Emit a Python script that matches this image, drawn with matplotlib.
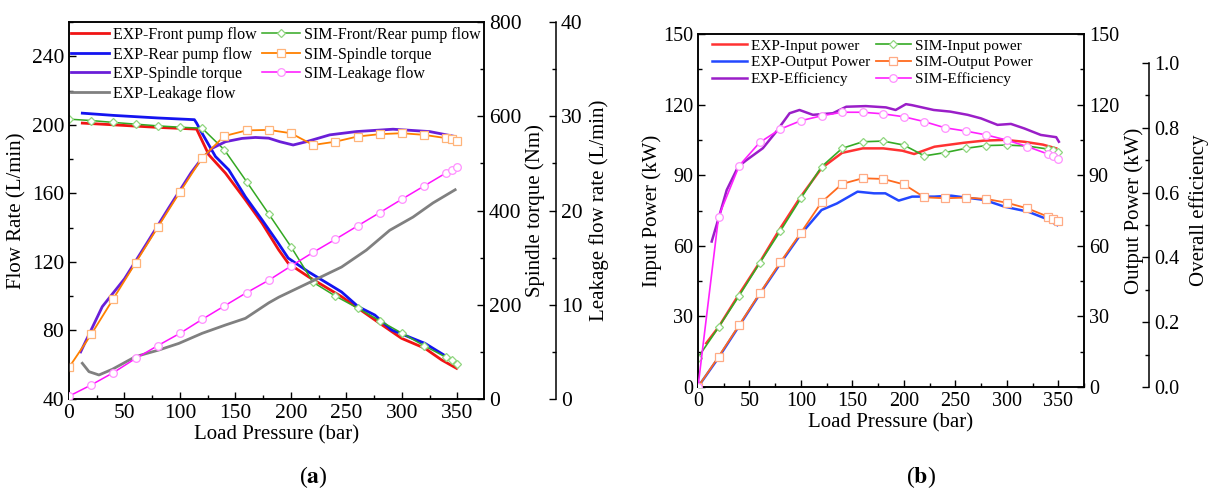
import matplotlib
matplotlib.use("Agg")
import matplotlib.pyplot as plt
from matplotlib.ticker import MultipleLocator

plt.rcParams['font.family'] = ['Liberation Serif', 'DejaVu Serif']
plt.rcParams['mathtext.fontset'] = 'stix'

# ---------------- Panel (a) data ----------------
sim_p = [0, 20, 40, 60, 80, 100, 120, 140, 160, 180, 200, 220, 240, 260, 280, 300, 320, 340, 345, 350]
sim_flow = [203.3, 202.5, 201.4, 200.4, 199.4, 198.6, 198.0, 185.4, 166.9, 148.0, 128.9, 108.1,
            100.1, 93.1, 85.7, 78.4, 71.1, 64.3, 62.5, 60.3]
sim_torque = [67, 137, 213, 289, 364.5, 439.5, 512, 558, 570, 571, 564, 539, 546, 557, 562,
              564, 560.5, 553.5, 552, 548]
sim_leak = [0.3, 1.49, 2.8, 4.3, 5.66, 6.97, 8.45, 9.87, 11.28, 12.6, 14.1, 15.56, 16.94,
            18.36, 19.77, 21.2, 22.6, 24.0, 24.3, 24.65]

exp_front_p = [12, 40, 80, 115, 126, 141, 159, 174, 189, 197.6, 215.6, 245.7, 275.7, 299.7,
               320.7, 335.8, 349.3]
exp_front_q = [201, 200, 198.5, 197.5, 182.5, 171.8, 156.2, 142.6, 127, 119.2, 111.4, 99.7,
               86.1, 75.4, 69.6, 62.8, 57.9]

exp_rear_p = [12, 40, 80, 113, 115, 120, 132, 144, 159, 174, 187.6, 197.6, 215.6, 245.6,
              260.6, 275.6, 290.7, 320.7, 347.7]
exp_rear_q = [206.8, 205.5, 204, 203, 201, 195, 181.5, 173.7, 158, 144.5, 131.9, 122.2,
              114.3, 102.5, 93.9, 89.0, 80.3, 72.5, 61.8]

exp_torque_p = [10.5, 30, 50, 70, 90, 110, 118.6, 129, 141, 156, 168, 180, 190, 202, 214,
                235, 259, 292, 325, 348]
exp_torque = [100, 196, 255, 330, 406, 480, 507, 532, 546, 553, 555, 553.5, 546, 539, 546,
              560.5, 567.5, 572.5, 567.5, 557]

exp_leak_p = [12, 18, 27, 39, 60, 81, 99, 120, 141, 159, 180, 189, 215.6, 245.6, 268, 289,
              310, 328, 348]
exp_leak = [3.79, 2.9, 2.55, 3.15, 4.5, 5.2, 5.9, 6.97, 7.85, 8.56, 10.2, 10.8, 12.3, 14.0,
            15.8, 17.9, 19.3, 20.8, 22.2]

# ---------------- Panel (b) data ----------------
sim_in = [12.5, 25.4, 38.8, 52.7, 66.3, 80.2, 93.6, 101.4, 104.2, 104.5, 102.8, 98.2, 99.6,
          101.4, 102.6, 102.8, 102.4, 101.1, 100.5, 99.9]
sim_out = [0, 12.9, 26.3, 39.8, 53.0, 65.6, 78.5, 86.3, 88.7, 88.4, 86.1, 80.6, 80.2, 80.5,
           79.9, 78.3, 75.9, 72.4, 71.6, 70.7]
sim_eff = [0, 0.526, 0.683, 0.755, 0.796, 0.822, 0.837, 0.848, 0.848, 0.843, 0.834, 0.819,
           0.80, 0.79, 0.778, 0.762, 0.742, 0.719, 0.713, 0.704]

exp_in_p = [8, 20, 40, 60, 80, 100, 120, 140, 160, 180, 198.6, 210, 229.7, 258.7, 278, 298,
            317, 335, 348]
exp_in = [18.6, 25.5, 39.5, 53, 67.5, 81, 93, 99.5, 101.4, 101.4, 100.4, 99, 102.1, 103.8,
          104.7, 105, 104.2, 103, 101.4]

exp_out_p = [0, 20, 40, 60, 80, 100, 120, 135, 155, 171, 182, 195, 208, 229.7, 246, 278, 298,
             320.7, 337, 349]
exp_out = [0, 12.5, 26, 39.5, 52.5, 65, 75.2, 78, 83, 82.3, 82.3, 79.2, 80.9, 80.9, 81.3,
           79.5, 76.6, 74.5, 71.7, 68.8]

exp_eff_p = [13.3, 21.4, 27.9, 39, 47, 63, 76, 89, 98.6, 111.6, 131, 144, 163, 182.6, 192,
             202, 207.7, 229, 245, 262, 275, 291, 304, 317, 333, 348, 350.6]
exp_eff = [0.449, 0.536, 0.608, 0.68, 0.70, 0.737, 0.788, 0.845, 0.855, 0.84, 0.845, 0.865,
           0.867, 0.863, 0.855, 0.873, 0.870, 0.855, 0.85, 0.84, 0.829, 0.809, 0.812, 0.798,
           0.778, 0.771, 0.757]

W, H = 1210, 495
fig = plt.figure(figsize=(W / 100, H / 100), dpi=100)


def fx(px):
    return px / W


def fy(py):
    return 1 - py / H


TICK_A = 15.5
TICK_B = 14.5
LAB = 15

# ================= Panel (a) =================
axa = fig.add_axes([fx(69), fy(399), fx(484 - 69), (399 - 22) / H])
axa_t = axa.twinx()
axa_l = axa.twinx()
axa_l.spines['right'].set_position(('axes', 1 + 72 / 415))

ms = 5.5
l1, = axa.plot(exp_front_p, exp_front_q, color='#f01414', lw=2.0, label='EXP-Front pump flow')
l2, = axa.plot(exp_rear_p, exp_rear_q, color='#1414f0', lw=2.0, label='EXP-Rear pump flow')
l5, = axa.plot(sim_p, sim_flow, color='#33a822', lw=1.1, marker='D', ms=ms - 1, mfc='white',
               mec='#8fd67f', mew=0.9, label='SIM-Front/Rear pump flow')
l3, = axa_t.plot(exp_torque_p, exp_torque, color='#6a1ed8', lw=2.0, label='EXP-Spindle torque')
l6, = axa_t.plot(sim_p, sim_torque, color='#ff8000', lw=1.3, marker='s', ms=ms, mfc='white',
                 mec='#ffb47a', mew=0.9, label='SIM-Spindle torque')
l4, = axa_l.plot(exp_leak_p, exp_leak, color='#808080', lw=2.0, label='EXP-Leakage flow')
l7, = axa_l.plot(sim_p, sim_leak, color='#ff10ff', lw=1.1, marker='o', ms=ms, mfc='white',
                 mec='#ff90ff', mew=0.9, label='SIM-Leakage flow')

axa.set_xlim(0, 374)
axa.set_ylim(40, 260)
axa_t.set_ylim(0, 800)
axa_l.set_ylim(0, 40)
axa.xaxis.set_major_locator(MultipleLocator(50))
axa.xaxis.set_minor_locator(MultipleLocator(25))
axa.yaxis.set_major_locator(MultipleLocator(40))
axa.yaxis.set_minor_locator(MultipleLocator(20))
axa_t.yaxis.set_major_locator(MultipleLocator(200))
axa_t.yaxis.set_minor_locator(MultipleLocator(100))
axa_l.yaxis.set_major_locator(MultipleLocator(10))
axa_l.yaxis.set_minor_locator(MultipleLocator(5))
axa.set_xticks([0, 50, 100, 150, 200, 250, 300, 350])

for ax in (axa, axa_t, axa_l):
    ax.tick_params(which='both', direction='in', labelsize=TICK_A, width=1.0)
    ax.tick_params(which='major', length=5)
    ax.tick_params(which='minor', length=3)
    for s in ax.spines.values():
        s.set_linewidth(1.1)
axa_l.spines['top'].set_visible(False)
axa_l.spines['left'].set_visible(False)
axa_l.spines['bottom'].set_visible(False)

axa.set_xlabel('Load Pressure (bar)', fontsize=LAB, labelpad=2)
axa.set_ylabel('Flow Rate (L/min)', fontsize=LAB, labelpad=4)
axa_t.set_ylabel('Spindle torque (Nm)', fontsize=LAB, labelpad=3)
axa_l.set_ylabel('Leakage flow rate (L/min)', fontsize=LAB, labelpad=5)

axa_l.legend(handles=[l1, l2, l3, l4, l5, l6, l7], ncol=2, frameon=False, fontsize=11.5,
             loc='upper left', bbox_to_anchor=(fx(71), fy(27)), bbox_transform=fig.transFigure,
             borderpad=0, borderaxespad=0, handlelength=2.4, handletextpad=0.25,
             columnspacing=0.3, labelspacing=0.22)

fig.text(fx(313), fy(477), r'($\mathbf{a}$)', ha='center', va='center', fontsize=17)

# ================= Panel (b) =================
axb = fig.add_axes([fx(698), fy(387), fx(1084 - 698), (387 - 34) / H])
axb_o = axb.twinx()
axb_e = axb.twinx()
axb_e.spines['right'].set_position(('axes', 1 + 65 / 386))

m1, = axb.plot(exp_in_p, exp_in, color='#ff3232', lw=1.8, label='EXP-Input power')
m4, = axb.plot(sim_p, sim_in, color='#35aa25', lw=1.2, marker='D', ms=ms - 1, mfc='white',
               mec='#8fd67f', mew=0.9, label='SIM-Input power')
m2, = axb_o.plot(exp_out_p, exp_out, color='#2348ff', lw=1.8, label='EXP-Output Power')
m5, = axb_o.plot(sim_p, sim_out, color='#ff6a1e', lw=1.3, marker='s', ms=ms, mfc='white',
                 mec='#ffab85', mew=0.9, label='SIM-Output Power')
m3, = axb_e.plot(exp_eff_p, exp_eff, color='#9a1ec8', lw=1.8, label='EXP-Efficiency')
m6, = axb_e.plot(sim_p, sim_eff, color='#ff20ff', lw=1.2, marker='o', ms=ms, mfc='white',
                 mec='#ff90ff', mew=0.9, label='SIM-Efficiency')

axb.set_xlim(0, 375)
axb.set_ylim(0, 150)
axb_o.set_ylim(0, 150)
axb_e.set_ylim(0, 353 / 324)
axb_e.spines['right'].set_bounds(0, 1.0)
axb.set_xticks([0, 50, 100, 150, 200, 250, 300, 350])
axb.xaxis.set_minor_locator(MultipleLocator(25))
for ax in (axb, axb_o):
    ax.yaxis.set_major_locator(MultipleLocator(30))
    ax.yaxis.set_minor_locator(MultipleLocator(15))
axb_e.set_yticks([0.0, 0.2, 0.4, 0.6, 0.8, 1.0])
axb_e.set_yticklabels(['0.0', '0.2', '0.4', '0.6', '0.8', '1.0'])
axb_e.set_yticks([0.1, 0.3, 0.5, 0.7, 0.9], minor=True)

for ax in (axb, axb_o, axb_e):
    ax.tick_params(which='both', direction='in', labelsize=TICK_B, width=1.0)
    ax.tick_params(which='major', length=5)
    ax.tick_params(which='minor', length=3)
    for s in ax.spines.values():
        s.set_linewidth(1.1)
axb_e.spines['top'].set_visible(False)
axb_e.spines['left'].set_visible(False)
axb_e.spines['bottom'].set_visible(False)

axb.set_xlabel('Load Pressure (bar)', fontsize=LAB, labelpad=2)
axb.set_ylabel('Input Power (kW)', fontsize=LAB, labelpad=1)
axb_o.set_ylabel('Output Power (kW)', fontsize=LAB, labelpad=4)
axb_e.set_ylabel('Overall efficiency', fontsize=LAB, labelpad=7)

axb_e.legend(handles=[m1, m2, m3, m4, m5, m6], ncol=2, frameon=False, fontsize=11,
             loc='upper left', bbox_to_anchor=(fx(712), fy(39)), bbox_transform=fig.transFigure,
             borderpad=0, borderaxespad=0, handlelength=2.3, handletextpad=0.25,
             columnspacing=0.35, labelspacing=0.2)

fig.text(fx(921), fy(477), r'($\mathbf{b}$)', ha='center', va='center', fontsize=17)

fig.savefig('out.png', dpi=100)
